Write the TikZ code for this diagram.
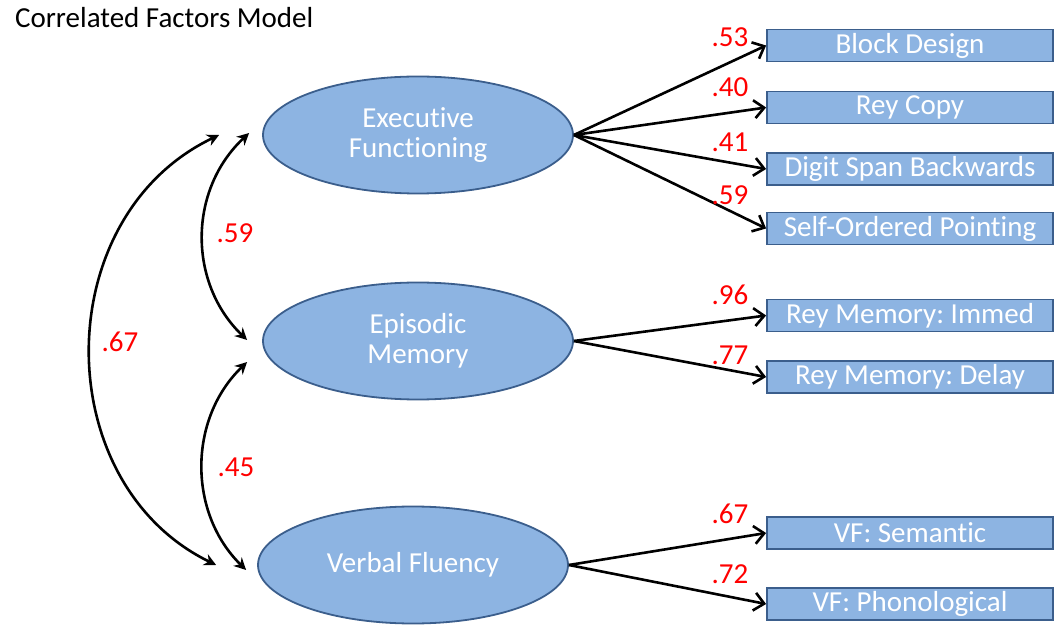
\documentclass[tikz,border=0pt]{standalone}
\usepackage{fontspec}
\setmainfont{Carlito}[Ligatures=CommonOff]
\usepackage{xcolor}
\usetikzlibrary{arrows.meta,shapes.geometric}
\definecolor{latentfill}{HTML}{8DB4E2}
\definecolor{latentline}{HTML}{3B5E8C}
\frenchspacing

\begin{document}
\begin{tikzpicture}[x=0.5pt,y=-0.5pt,
    latent/.style={ellipse,draw=latentline,fill=latentfill,line width=0.9pt,minimum width=155pt,minimum height=58.5pt,
      text=white,align=center,font=\fontsize{14.5}{15}\selectfont},
    measure/.style={rectangle,draw=latentline,fill=latentfill,line width=0.9pt,minimum width=143pt,minimum height=16pt,
      inner sep=0pt,text=white,font=\fontsize{14.5}{15}\selectfont},
    coef/.style={text=red,font=\fontsize{14.5}{15}\selectfont},
    load/.style={-{Straight Barb[length=5pt,width=9pt]},line width=1.3pt},
    corr/.style={{Stealth[length=6pt,width=6pt]}-{Stealth[length=6pt,width=6pt]},line width=1.3pt}]
  \useasboundingbox (0,0) rectangle (1054,625);
  \node[anchor=west,font=\fontsize{14.5}{15}\selectfont] (title) at (8,18) {Correlated Factors Model};
  \node[latent] (ef) at (418,135) {Executive\\Functioning};
  \node[latent] (em) at (418,341) {Episodic\\Memory};
  \node[latent] (vf) at (413,565) {Verbal Fluency};
  \foreach \n/\y/\t in {bd/45.5/Block Design,rc/107.5/Rey Copy,ds/169/Digit Span Backwards,so/228.5/Self-Ordered Pointing,
      ri/315.5/Rey Memory: Immed,rd/377/Rey Memory: Delay,vs/533/VF: Semantic,vp/604/VF: Phonological}
    \node[measure] (\n) at (910,\y) {\t};
  \foreach \n in {bd,rc,ds,so} \draw[load] (ef.east) -- (\n.west);
  \foreach \n in {ri,rd} \draw[load] (em.east) -- (\n.west);
  \foreach \n in {vs,vp} \draw[load] (vf.east) -- (\n.west);
  \foreach \n/\v/\y in {bd/.53/37,rc/.40/87,ds/.41/142,so/.59/195,ri/.96/295,rd/.77/355,vs/.67/514,vp/.72/574}
    \node[coef] (l\n) at (730,\y) {\v};
  % ends of the correlation arcs
  \coordinate (ef-o) at ([shift={(-43,0)}]ef.west);
  \coordinate (ef-i) at ([shift={(-13,-2)}]ef.west);
  \coordinate (em-a) at ([shift={(-15,-1)}]em.west);
  \coordinate (em-b) at ([shift={(-15,21)}]em.west);
  \coordinate (vf-i) at ([shift={(-11,5)}]vf.west);
  \coordinate (vf-o) at ([shift={(-41,0)}]vf.west);
  \draw[corr] (ef-o) .. controls (48,217) and (48,483) .. (vf-o);
  \draw[corr] (ef-i) .. controls (188,190) and (188,283) .. (em-a);
  \draw[corr] (em-b) .. controls (188,419) and (188,513) .. (vf-i);
  \node[coef] (c67) at (120,342) {.67};
  \node[coef] (c59) at (235,233) {.59};
  \node[coef] (c45) at (236,467) {.45};
\end{tikzpicture}
\end{document}
